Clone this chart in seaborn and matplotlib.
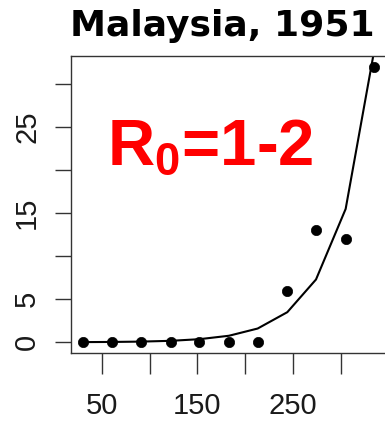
import matplotlib
matplotlib.use("Agg")
import matplotlib.pyplot as plt
import seaborn as sns
import pandas as pd

# Data
days = [30, 61, 91, 122, 152, 183, 213, 244, 274, 305, 335]
observed = [0, 0, 0, 0, 0, 0, 0, 6, 13, 12, 32]
model = [0.02, 0.04, 0.08, 0.17, 0.36, 0.76, 1.6, 3.5, 7.3, 15.5, 34.0]
x_ticks = [50, 100, 150, 200, 250, 300]
x_ticklabels = ["50", "", "150", "", "250", ""]
y_ticks = [0, 5, 10, 15, 20, 25, 30]
y_ticklabels = ["0", "5", "", "15", "", "25", ""]
title = "Malaysia, 1951"
annotation = r"$\mathbf{R_0}$=1-2"

df = pd.DataFrame({"day": days, "observed": observed, "model": model})

sns.set_style("white")
plt.rcParams["font.family"] = ["Liberation Sans", "DejaVu Sans"]
plt.rcParams["mathtext.fontset"] = "custom"
plt.rcParams["mathtext.bf"] = "Liberation Sans:bold"
plt.rcParams["mathtext.rm"] = "Liberation Sans"

W, H = 385, 423
fig = plt.figure(figsize=(W / 100, H / 100), dpi=100)
left, right, top, bottom = 71, 386, 56, 353.3
ax = fig.add_axes([left / W, (H - bottom) / H, (right - left) / W, (bottom - top) / H])

sns.lineplot(data=df, x="day", y="model", ax=ax, color="black", linewidth=1.5)
sns.scatterplot(data=df, x="day", y="observed", ax=ax, color="black",
                s=55, edgecolor="black", linewidth=0.5, zorder=3)

ax.set_xlim(17.8, 347.2)
ax.set_ylim(-1.28, 33.28)
ax.set_xlabel("")
ax.set_ylabel("")

ax.set_xticks(x_ticks)
ax.set_xticklabels(x_ticklabels)
ax.set_yticks(y_ticks)
ax.set_yticklabels(y_ticklabels)

ax.tick_params(axis="x", direction="out", length=15, width=1.0, color="#333333",
               pad=13, labelsize=21, labelcolor="#1a1a1a", bottom=True)
ax.tick_params(axis="y", direction="out", length=11.5, width=1.0, color="#333333",
               pad=10, labelsize=21, labelcolor="#1a1a1a", left=True, labelrotation=90)
for lab in ax.get_yticklabels():
    lab.set_va("center")

for sp in ax.spines.values():
    sp.set_color("#333333")
    sp.set_linewidth(1.0)
    sp.set_visible(True)

ax.text((107 - left) / (right - left), (bottom - 165) / (bottom - top), annotation,
        transform=ax.transAxes, ha="left", va="baseline", color="#ff0000",
        fontsize=47, fontweight="bold", family="Liberation Sans")

fig.text(222 / W, (H - 36) / H, title, ha="center", va="baseline",
         fontsize=26, fontweight="bold", family="DejaVu Sans", color="black")

fig.savefig("out.png", dpi=100)
